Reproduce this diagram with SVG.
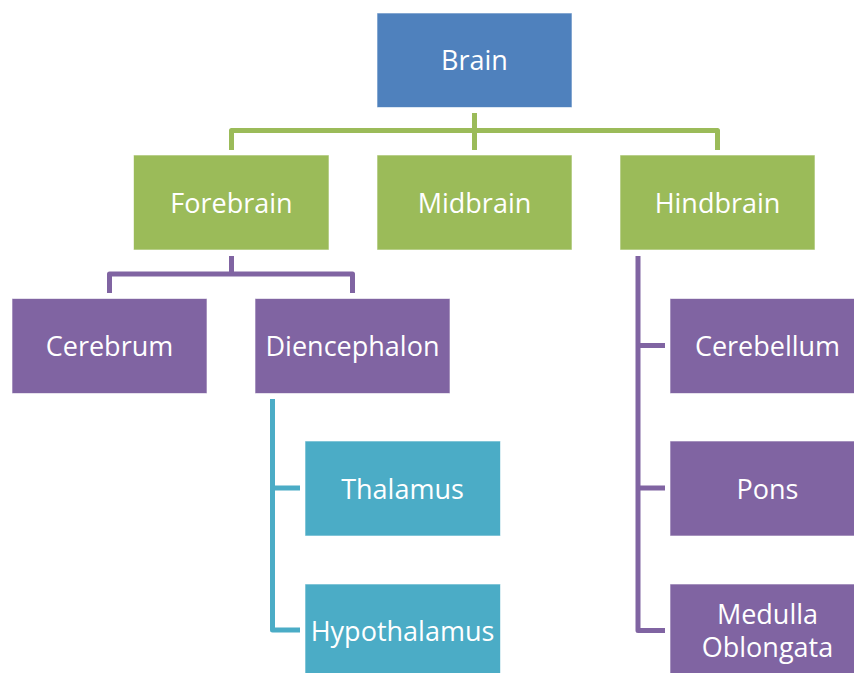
<svg xmlns="http://www.w3.org/2000/svg" width="854" height="673" viewBox="0 0 854 673">
<style>
.box{stroke:#ffffff;stroke-opacity:0.6;stroke-width:1}
.blue{fill:#4F81BD}.green{fill:#9BBB59}.purple{fill:#8064A2}.teal{fill:#4BACC6}
.lbl{font-family:"Open Sans","Noto Sans",sans-serif;font-size:27px;fill:#ffffff;text-anchor:middle}
.c{fill:none;stroke-width:5;stroke-linejoin:round}
</style>
<rect width="854" height="673" fill="#ffffff"/>
<g id="connectors">
<path class="c" stroke="#9BBB59" d="M231.5 150 V130.5 H717.5 V150 M474.5 113 V150"/>
<path class="c" stroke="#8064A2" d="M231.5 256 V274 M109.5 293 V274 H352.5 V293"/>
<path class="c" stroke="#4BACC6" d="M272.5 399 V630 H300 M272.5 488 H300"/>
<path class="c" stroke="#8064A2" d="M638 256 V630.5 H665 M638 345.5 H665 M638 488 H665"/>
</g>
<g id="brain"><rect class="box blue" x="377" y="13" width="195" height="94.5"/><text class="lbl" x="474.5" y="70">Brain</text></g>
<g id="forebrain"><rect class="box green" x="133.5" y="155" width="195.5" height="95"/><text class="lbl" x="231.5" y="212.5">Forebrain</text></g>
<g id="midbrain"><rect class="box green" x="377" y="155" width="195" height="95"/><text class="lbl" x="474.5" y="212.5">Midbrain</text></g>
<g id="hindbrain"><rect class="box green" x="620" y="155" width="195" height="95"/><text class="lbl" x="717.5" y="212.5">Hindbrain</text></g>
<g id="cerebrum"><rect class="box purple" x="12" y="298.5" width="195" height="95"/><text class="lbl" x="109.5" y="355.5">Cerebrum</text></g>
<g id="diencephalon"><rect class="box purple" x="255" y="298.5" width="195" height="95"/><text class="lbl" x="352.5" y="355.5">Diencephalon</text></g>
<g id="thalamus"><rect class="box teal" x="305" y="441" width="195.5" height="95"/><text class="lbl" x="402.5" y="498.5">Thalamus</text></g>
<g id="hypothalamus"><rect class="box teal" x="305" y="584" width="195.5" height="95"/><text class="lbl" x="402.5" y="641">Hypothalamus</text></g>
<g id="cerebellum"><rect class="box purple" x="670" y="298.5" width="195" height="95"/><text class="lbl" x="767.5" y="355.5">Cerebellum</text></g>
<g id="pons"><rect class="box purple" x="670" y="441" width="195" height="95"/><text class="lbl" x="767.5" y="498.5">Pons</text></g>
<g id="medulla"><rect class="box purple" x="670" y="584" width="195" height="95"/><text class="lbl" x="767.5" y="623.5">Medulla</text><text class="lbl" x="767.5" y="657">Oblongata</text></g>
</svg>
